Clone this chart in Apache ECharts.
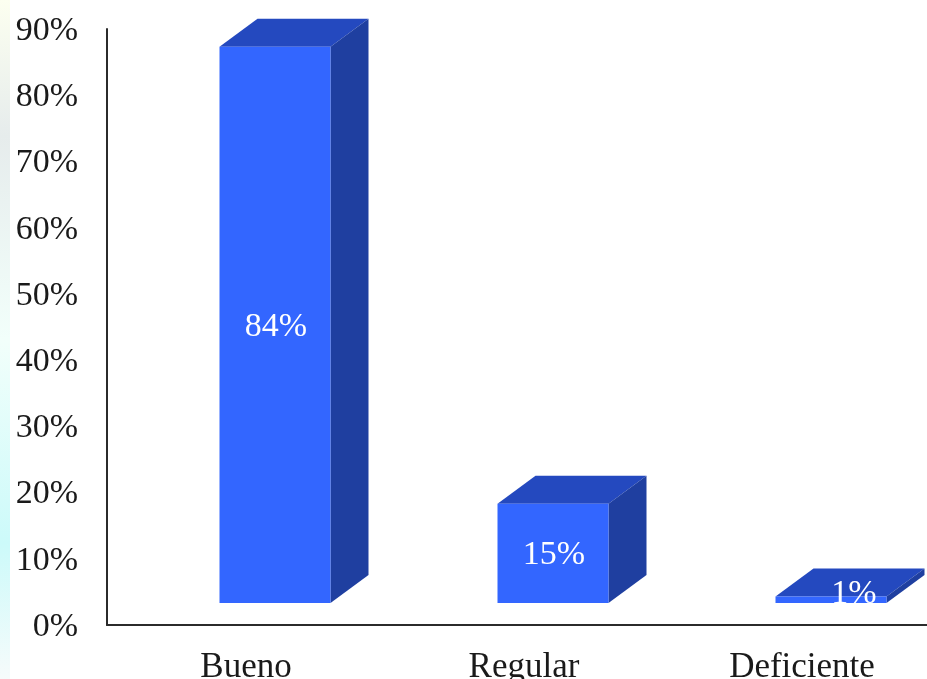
<!DOCTYPE html>
<html>
<head>
<meta charset="utf-8">
<style>html,body{margin:0;padding:0;background:#fff}#c{width:927px;height:679px}</style>
<script src="https://cdn.jsdelivr.net/npm/echarts@6/dist/echarts.min.js"></script>
</head>
<body>
<div id="c"></div>
<script>
var categories = ['Bueno', 'Regular', 'Deficiente'];
var values = [84, 15, 1];
var yTicks = [0, 10, 20, 30, 40, 50, 60, 70, 80, 90];

var FONT = '"Liberation Serif", "Times New Roman", serif';
var FRONT = '#3366ff', TOP = '#2449bf', SIDE = '#1f3fa0';
var BAR_W = 111, DX = 38, DY = 28, LIFT = 22, SHIFT = 29;

function renderBar(params, api) {
  var val = api.value(1);
  var top = api.coord([api.value(0), val]);
  var base = api.coord([api.value(0), 0]);
  var cx = top[0] + SHIFT;
  var x0 = cx - BAR_W / 2, x1 = cx + BAR_W / 2;
  var y0 = top[1] - LIFT, y1 = base[1] - LIFT;
  var h = y1 - y0;
  var flat = h < 20;
  var lx = flat ? cx + DX / 2 + 4 : cx + 1;
  var ly = flat ? y0 - 2 : (y0 + y1) / 2 + 2;
  return {
    type: 'group',
    children: [
      { type: 'polygon', shape: { points: [[x0, y0], [x1, y0], [x1 + DX, y0 - DY], [x0 + DX, y0 - DY]] }, style: { fill: TOP } },
      { type: 'polygon', shape: { points: [[x1, y0], [x1 + DX, y0 - DY], [x1 + DX, y1 - DY], [x1, y1]] }, style: { fill: SIDE } },
      { type: 'rect', shape: { x: x0, y: y0, width: BAR_W, height: h }, style: { fill: FRONT } },
      { type: 'text', style: { x: lx, y: ly, text: val + '%', fill: '#fff', font: '34px ' + FONT, align: 'center', verticalAlign: 'middle' } }
    ]
  };
}

var chart = echarts.init(document.getElementById('c'), null, { renderer: 'canvas' });
chart.setOption({
  animation: false,
  backgroundColor: '#fff',
  graphic: [{
    type: 'rect', z: -1, silent: true,
    shape: { x: 0, y: 0, width: 10, height: 679 },
    style: { fill: new echarts.graphic.LinearGradient(0, 0, 0, 1, [
      { offset: 0, color: '#fcfff0' },
      { offset: 0.2, color: '#e6ecec' },
      { offset: 0.5, color: '#f2fffb' },
      { offset: 0.8, color: '#ccfafa' },
      { offset: 1, color: '#f6fbfb' }
    ]) }
  }],
  grid: { left: 107, top: 29, width: 834, height: 596, containLabel: false, outerBoundsMode: 'none' },
  xAxis: {
    type: 'category',
    data: categories,
    axisTick: { show: false },
    axisLine: { lineStyle: { color: '#2b2b2b', width: 2 } },
    axisLabel: { color: '#1a1a1a', fontFamily: FONT, fontSize: 35, margin: 25 }
  },
  yAxis: {
    type: 'value',
    min: yTicks[0],
    max: yTicks[yTicks.length - 1],
    interval: yTicks[1] - yTicks[0],
    splitLine: { show: false },
    axisTick: { show: false },
    axisLine: { show: true, lineStyle: { color: '#2b2b2b', width: 2 } },
    axisLabel: {
      margin: 29,
      formatter: function (v) { return '{a|' + v + '%}'; },
      rich: { a: { color: '#1a1a1a', fontFamily: FONT, fontSize: 34, padding: [4, 0, 0, 0] } }
    }
  },
  series: [{
    type: 'custom',
    clip: false,
    renderItem: renderBar,
    encode: { x: 0, y: 1 },
    data: values.map(function (v, i) { return [i, v]; })
  }]
});
</script>
</body>
</html>
